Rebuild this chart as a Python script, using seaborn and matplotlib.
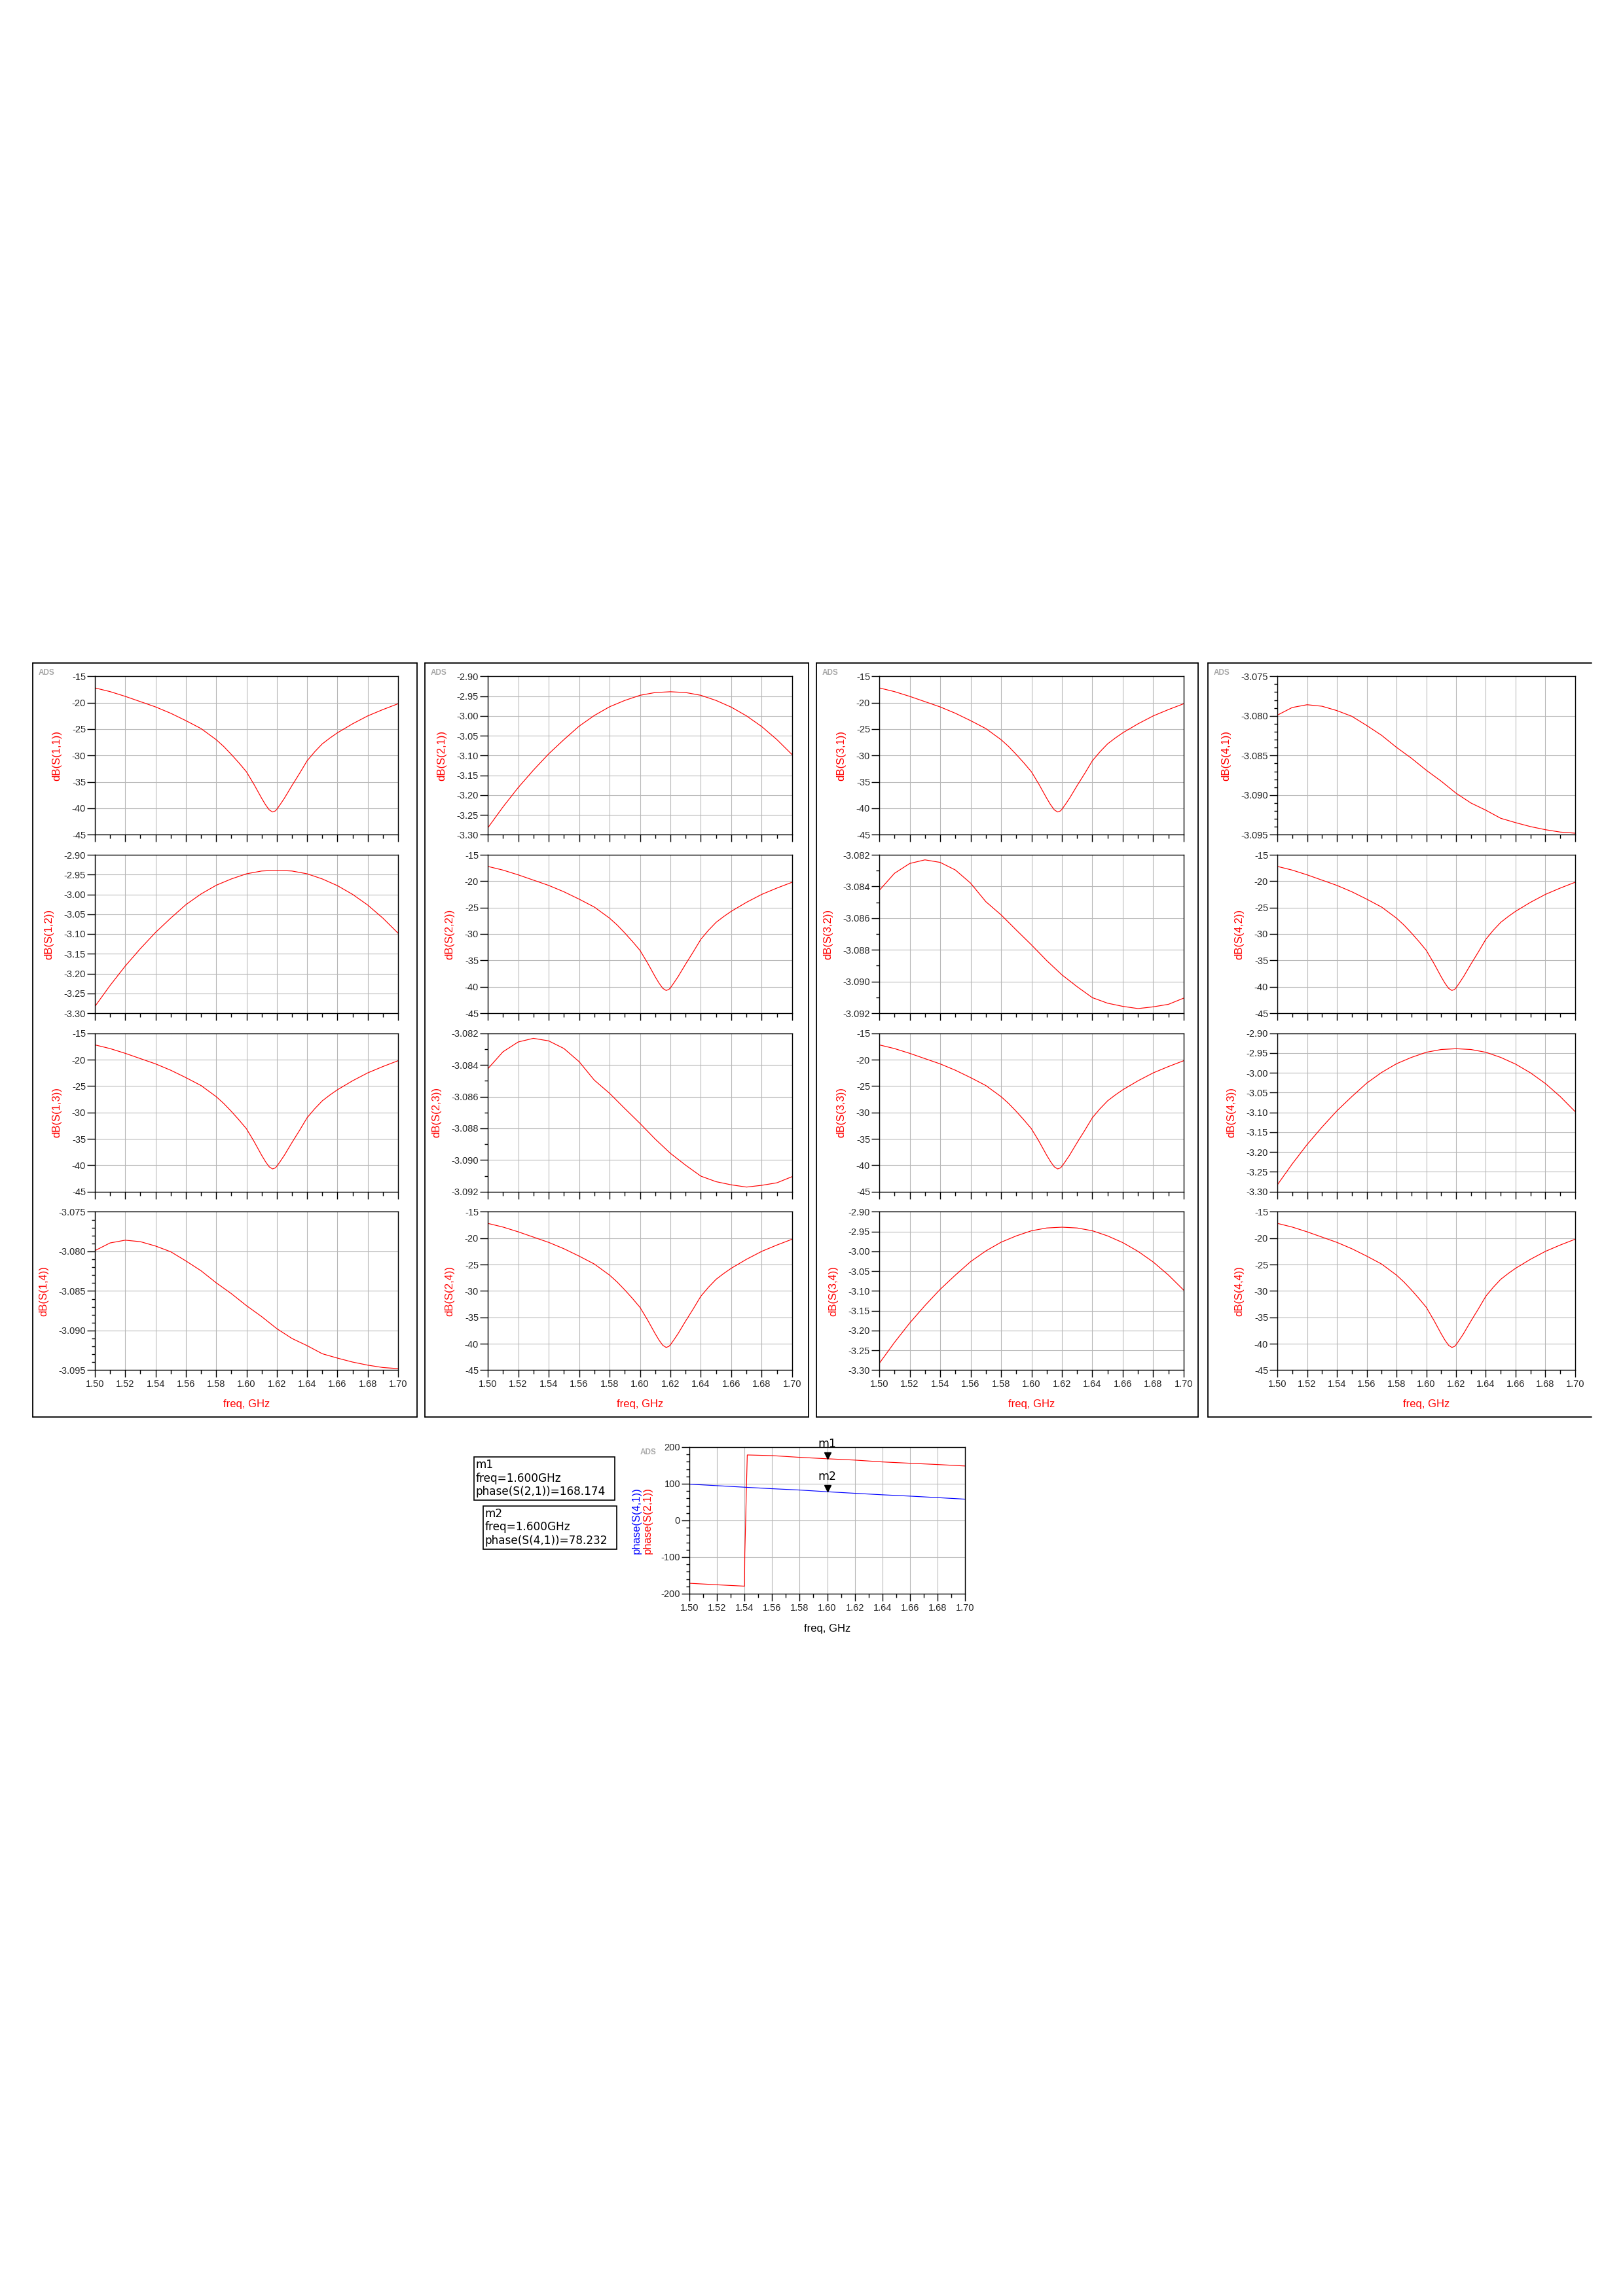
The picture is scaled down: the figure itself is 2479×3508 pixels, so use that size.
import numpy as np
import pandas as pd
import matplotlib
matplotlib.use("Agg")
import matplotlib.pyplot as plt
import seaborn as sns
from matplotlib.ticker import MultipleLocator, FormatStrFormatter
from matplotlib.lines import Line2D
from matplotlib.patches import Rectangle
import matplotlib.transforms as mtransforms

# ---------------- data ----------------
freq_step = [1.50, 1.51, 1.52, 1.53, 1.54, 1.55, 1.56, 1.57, 1.58, 1.59, 1.60,
             1.61, 1.62, 1.63, 1.64, 1.65, 1.66, 1.67, 1.68, 1.69, 1.70]

# reflection / isolation type curves (dip near 1.617 GHz)
dip_freq = [1.50, 1.51, 1.52, 1.53, 1.54, 1.55, 1.56, 1.57, 1.58, 1.585, 1.59, 1.595, 1.60,
            1.605, 1.61, 1.6125, 1.615, 1.6172, 1.619, 1.62, 1.6222, 1.625,
            1.63, 1.635, 1.64, 1.645, 1.65, 1.655, 1.66, 1.67, 1.68, 1.69, 1.70]
dip_db = [-17.2, -17.9, -18.8, -19.8, -20.8, -22.0, -23.4, -24.9, -27.0, -28.3, -29.8, -31.4, -33.1,
          -35.5, -38.1, -39.3, -40.3, -40.7, -40.5, -40.2, -39.3, -38.1,
          -35.7, -33.4, -31.0, -29.3, -27.8, -26.7, -25.7, -24.0, -22.5, -21.3, -20.2]

# through-arm type curves (arch)
arch_db = [-3.283, -3.230, -3.181, -3.137, -3.096, -3.060, -3.026, -2.999, -2.977, -2.961, -2.948,
           -2.941, -2.939, -2.941, -2.948, -2.961, -2.978, -3.000, -3.027, -3.060, -3.098]

# coupled-arm type S14 / S41
s14_db = [-3.07991, -3.07894, -3.07859, -3.07878, -3.07933, -3.08005, -3.08121, -3.08245,
          -3.08397, -3.08534, -3.08686, -3.08824, -3.08976, -3.09100, -3.09191, -3.09293,
          -3.09348, -3.09398, -3.09437, -3.09467, -3.09481]

# coupled-arm type S23 / S32
s23_db = [-3.08425, -3.08317, -3.08255, -3.08232, -3.08248, -3.08296, -3.08379, -3.08496,
          -3.08579, -3.08675, -3.08769, -3.08868, -3.08958, -3.09033, -3.09102, -3.09137,
          -3.09157, -3.09171, -3.09160, -3.09144, -3.09105]

# phase plot
phase21_freq = [1.50, 1.52, 1.54, 1.5402, 1.5408, 1.5413, 1.542, 1.56, 1.58, 1.60,
                1.62, 1.64, 1.66, 1.68, 1.70]
phase21_deg = [-171.5, -175.6, -179.4, -90.0, -5.0, 78.0, 178.6, 176.8, 172.1, 168.174,
               164.6, 159.6, 156.0, 152.5, 148.5]
phase41_freq = [1.50, 1.52, 1.54, 1.56, 1.58, 1.60, 1.62, 1.64, 1.66, 1.68, 1.70]
phase41_deg = [98.9, 94.8, 90.6, 86.5, 82.9, 78.232, 74.0, 69.9, 66.3, 62.2, 58.0]

marker_freq = 1.600
m1_value = 168.174
m2_value = 78.232

# panel grid: which curve/label in each column (box) and row
panel_kind = [["dip", "arch", "dip", "s14"],
              ["arch", "dip", "s23", "dip"],
              ["dip", "s23", "dip", "arch"],
              ["s14", "dip", "arch", "dip"]]
panel_label = [["dB(S(1,1))", "dB(S(1,2))", "dB(S(1,3))", "dB(S(1,4))"],
               ["dB(S(2,1))", "dB(S(2,2))", "dB(S(2,3))", "dB(S(2,4))"],
               ["dB(S(3,1))", "dB(S(3,2))", "dB(S(3,3))", "dB(S(3,4))"],
               ["dB(S(4,1))", "dB(S(4,2))", "dB(S(4,3))", "dB(S(4,4))"]]

curves = {
    "dip": pd.DataFrame({"freq": dip_freq, "val": dip_db}),
    "arch": pd.DataFrame({"freq": freq_step, "val": arch_db}),
    "s14": pd.DataFrame({"freq": freq_step, "val": s14_db}),
    "s23": pd.DataFrame({"freq": freq_step, "val": s23_db}),
}
yconf = {
    "dip": dict(lim=(-45, -15), major=5, minor=None, fmt="%d"),
    "arch": dict(lim=(-3.30, -2.90), major=0.05, minor=None, fmt="%.2f"),
    "s14": dict(lim=(-3.095, -3.075), major=0.005, minor=0.001, fmt="%.3f"),
    "s23": dict(lim=(-3.092, -3.082), major=0.002, minor=0.001, fmt="%.3f"),
}

# ---------------- style ----------------
sns.set_theme(style="white")
plt.rcParams["font.family"] = ["Liberation Sans", "DejaVu Sans"]
plt.rcParams["axes.unicode_minus"] = False

W, H = 2479, 3508
fig = plt.figure(figsize=(W / 100, H / 100), dpi=100)
fig.patch.set_facecolor("white")

GRID = "#b8b8b8"
TICKFS = 10.5


def add_ax(x0, y0, x1, y1):
    return fig.add_axes([x0 / W, 1 - y1 / H, (x1 - x0) / W, (y1 - y0) / H])


def style_axes(ax):
    for s in ax.spines.values():
        s.set_visible(True)
        s.set_color("black")
        s.set_linewidth(1.0)
    ax.grid(True, which="major", color=GRID, linewidth=0.8)
    ax.set_axisbelow(True)
    ax.tick_params(axis="x", which="major", direction="out", length=7.7, width=1.0,
                   color="black", labelsize=TICKFS, pad=3, bottom=True, top=False)
    ax.tick_params(axis="x", which="minor", direction="out", length=4.3, width=1.0,
                   color="black", bottom=True, top=False)
    ax.tick_params(axis="y", which="major", direction="out", length=9.0, width=1.0,
                   color="black", labelsize=TICKFS, pad=1, left=True, right=False)
    ax.tick_params(axis="y", which="minor", direction="out", length=3.8, width=1.0,
                   color="black", left=True, right=False)


def fig_line(x0, y0, x1, y1, lw=1.3):
    fig.add_artist(Line2D([x0 / W, x1 / W], [1 - y0 / H, 1 - y1 / H],
                          transform=fig.transFigure, color="black", lw=lw))


col_axes_x = [(145, 608), (745, 1210), (1343, 1808), (1951, 2406)]
boxes_x = [(50, 637), (649, 1235), (1247, 1830), (1845, 2431)]
row_tops = [1033.3, 1306.0, 1578.7, 1851.4]
row_h = 242.0
box_top, box_bot = 1013, 2165

for c in range(4):
    bx0, bx1 = boxes_x[c]
    fig_line(bx0, box_top, bx1, box_top)
    fig_line(bx0, box_bot, bx1, box_bot)
    fig_line(bx0, box_top, bx0, box_bot)
    if c < 3:
        fig_line(bx1, box_top, bx1, box_bot)
    fig.text((bx0 + 9) / W, 1 - 1028 / H, "ADS", color="#a8a8a8", fontsize=8.5,
             fontweight="bold", ha="left", va="center")

    ax0, ax1 = col_axes_x[c]
    for r in range(4):
        kind = panel_kind[c][r]
        ax = add_ax(ax0, row_tops[r], ax1, row_tops[r] + row_h)
        sns.lineplot(data=curves[kind], x="freq", y="val", ax=ax, color="#ff0000",
                     linewidth=0.85, estimator=None, sort=False)
        cfg = yconf[kind]
        ax.set_xlim(1.50, 1.70)
        ax.set_ylim(*cfg["lim"])
        ax.xaxis.set_major_locator(MultipleLocator(0.02))
        ax.xaxis.set_minor_locator(MultipleLocator(0.01))
        ax.xaxis.set_major_formatter(FormatStrFormatter("%.2f"))
        ax.yaxis.set_major_locator(MultipleLocator(cfg["major"]))
        if cfg["minor"]:
            ax.yaxis.set_minor_locator(MultipleLocator(cfg["minor"]))
        ax.yaxis.set_major_formatter(FormatStrFormatter(cfg["fmt"]))
        style_axes(ax)
        ax.set_ylabel(panel_label[c][r], color="#ff0000", fontsize=12, labelpad=11)
        if r == 3:
            ax.set_xlabel("freq, GHz", color="#ff0000", fontsize=12, labelpad=11)
        else:
            ax.set_xlabel("")
            ax.tick_params(axis="x", labelbottom=False)

# ---------------- phase plot ----------------
pax = add_ax(1053, 2211, 1474, 2435)
df21 = pd.DataFrame({"freq": phase21_freq, "val": phase21_deg})
df41 = pd.DataFrame({"freq": phase41_freq, "val": phase41_deg})
sns.lineplot(data=df21, x="freq", y="val", ax=pax, color="#ff0000", linewidth=0.85,
             estimator=None, sort=False)
sns.lineplot(data=df41, x="freq", y="val", ax=pax, color="#0000ff", linewidth=0.85,
             estimator=None, sort=False)
pax.set_xlim(1.50, 1.70)
pax.set_ylim(-200, 200)
pax.xaxis.set_major_locator(MultipleLocator(0.02))
pax.xaxis.set_minor_locator(MultipleLocator(0.01))
pax.xaxis.set_major_formatter(FormatStrFormatter("%.2f"))
pax.yaxis.set_major_locator(MultipleLocator(100))
pax.yaxis.set_minor_locator(MultipleLocator(20))
pax.yaxis.set_major_formatter(FormatStrFormatter("%d"))
style_axes(pax)
pax.set_ylabel("")
pax.set_xlabel("freq, GHz", color="black", fontsize=12, labelpad=12)
pax.text(-0.192, 0.5, "phase(S(4,1))", transform=pax.transAxes, rotation=90,
         color="#0000ff", fontsize=12, ha="center", va="center")
pax.text(-0.152, 0.5, "phase(S(2,1))", transform=pax.transAxes, rotation=90,
         color="#ff0000", fontsize=12, ha="center", va="center")
fig.text(978 / W, 1 - 2219 / H, "ADS", color="#a8a8a8", fontsize=8.5,
         fontweight="bold", ha="left", va="center")

# markers
marker_trans = mtransforms.offset_copy(pax.transData, fig=fig, x=0, y=5, units="dots")
for name, val in (("m1", m1_value), ("m2", m2_value)):
    pax.plot([marker_freq], [val], marker="v", color="black", markersize=7,
             linestyle="none", transform=marker_trans)
    pax.annotate(name, xy=(marker_freq, val), xytext=(0, 23), textcoords="offset pixels",
                 ha="center", va="center", fontsize=12.5, color="black",
                 family=["DejaVu Sans"], annotation_clip=False)

# marker readout boxes
readouts = [
    ((724, 2226, 939, 2292), ["m1", "freq=1.600GHz", "phase(S(2,1))=%.3f" % m1_value]),
    ((738, 2301, 942, 2367), ["m2", "freq=1.600GHz", "phase(S(4,1))=%.3f" % m2_value]),
]
for (x0, y0, x1, y1), lines in readouts:
    fig.add_artist(Rectangle((x0 / W, 1 - y1 / H), (x1 - x0) / W, (y1 - y0) / H,
                             transform=fig.transFigure, fill=False, edgecolor="black",
                             linewidth=1.2))
    for i, t in enumerate(lines):
        fig.text((x0 + 3) / W, 1 - (y0 + 12 + 20.5 * i) / H, t, fontsize=12.2,
                 family=["DejaVu Sans"], color="black", ha="left", va="center")

fig.savefig("out.png", dpi=100, facecolor="white")
